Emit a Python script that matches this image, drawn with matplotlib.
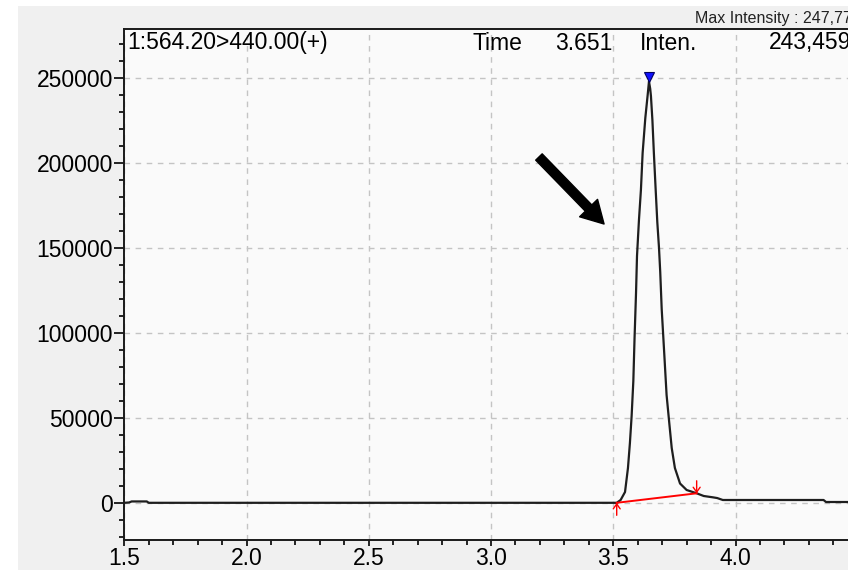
import matplotlib
matplotlib.use("Agg")
import matplotlib.pyplot as plt
from matplotlib.patches import Rectangle, FancyArrowPatch
from matplotlib.ticker import MultipleLocator
import matplotlib.transforms as mtransforms

plt.rcParams['font.family'] = ['Liberation Sans', 'DejaVu Sans']

# Chromatogram trace for transition 564.20 > 440.00 (+)
time_min = [1.500, 1.520, 1.530, 1.592, 1.600, 1.650, 3.500, 3.514, 3.530, 3.548,
            3.560, 3.568, 3.575, 3.582, 3.587, 3.593, 3.597, 3.605, 3.613, 3.620,
            3.631, 3.641, 3.646, 3.651, 3.654, 3.660, 3.666, 3.673, 3.680, 3.687,
            3.692, 3.698, 3.709, 3.718, 3.729, 3.739, 3.752, 3.773, 3.800, 3.841,
            3.870, 3.907, 3.925, 3.948, 4.360, 4.370, 4.460]
intensity = [0, 200, 800, 800, 0, 0, 0, 0, 1650, 6350,
             20460, 35160, 51040, 71620, 96900, 123370, 145100, 166290, 183930, 205690,
             226260, 240370, 247770, 243459, 239190, 224980, 205690, 185100, 165110, 149820,
             135710, 113950, 86320, 63390, 46920, 32220, 20460, 11350, 7530, 5590,
             4000, 3230, 2800, 1650, 1650, 470, 470]

# Integration baseline (peak start / end)
baseline_time = [3.514, 3.841]
baseline_int = [0, 5590]

# Peak top
apex_time = 3.648
apex_int = 247770

cursor_time = "3.651"
cursor_int = "243,459"
max_int_label = "Max Intensity : 247,770"
channel_label = "1:564.20>440.00(+)"

x_ticks = [1.5, 2.0, 2.5, 3.0, 3.5, 4.0]
y_ticks = [0, 50000, 100000, 150000, 200000, 250000]

W, H = 848, 570
fig = plt.figure(figsize=(W / 100, H / 100), dpi=100, facecolor='white')


def fx(px):
    return px / W


def fy(py):
    return 1 - py / H


# Window panel background
fig.patches.append(Rectangle((fx(18), 0), 1 - fx(18), fy(6), transform=fig.transFigure,
                             facecolor='#f0f0f0', edgecolor='none', zorder=-10))

ax = fig.add_axes([fx(124.3), fy(540), 1 - fx(124.3), fy(29) - fy(540)])
ax.set_facecolor('#fafafa')
ax.set_xlim(1.5, 4.46)
ax.set_ylim(-21870, 278600)

for s in ['top', 'left', 'bottom']:
    ax.spines[s].set_linewidth(1.4)
    ax.spines[s].set_color('#1a1a1a')
ax.spines['right'].set_visible(False)

ax.set_xticks(x_ticks)
ax.set_xticklabels([f"{v:.1f}" for v in x_ticks])
ax.set_yticks(y_ticks)
ax.set_yticklabels([str(v) for v in y_ticks])
ax.xaxis.set_minor_locator(MultipleLocator(0.1))
ax.yaxis.set_minor_locator(MultipleLocator(10000))
ax.tick_params(axis='y', which='major', length=7, width=1.2, pad=1, labelsize=16.5)
ax.tick_params(axis='y', which='minor', length=3.6, width=1.2)
ax.tick_params(axis='x', which='major', length=4.5, width=1.2, pad=0.5, labelsize=16.5)
ax.tick_params(axis='x', which='minor', length=3.6, width=1.2)

ax.grid(True, which='major', color='#c4c4c4', linestyle=(0, (4, 4)), linewidth=1.0)
ax.set_axisbelow(True)

ax.plot(time_min, intensity, color='#1e1e1e', linewidth=1.6, zorder=3)
ax.plot(baseline_time, baseline_int, color='red', linewidth=1.4, zorder=4)

# Peak start / end markers
ax.annotate('', xy=(baseline_time[0], baseline_int[0]), xytext=(0, -9),
            textcoords='offset points',
            arrowprops=dict(arrowstyle='->,head_length=0.35,head_width=0.25',
                            color='red', lw=1.0, shrinkA=0, shrinkB=0), zorder=5)
ax.annotate('', xy=(baseline_time[1], baseline_int[1]), xytext=(0, 9),
            textcoords='offset points',
            arrowprops=dict(arrowstyle='->,head_length=0.35,head_width=0.25',
                            color='red', lw=1.0, shrinkA=0, shrinkB=0), zorder=5)

# Peak top marker
up = mtransforms.offset_copy(ax.transData, fig=fig, x=0, y=4, units='dots')
ax.plot([apex_time], [apex_int], marker='v', markersize=7.5, color='#1010ff',
        markeredgecolor='#000060', markeredgewidth=0.8, transform=up, zorder=6,
        clip_on=False)

# Pointer arrow
arrow = FancyArrowPatch((fx(537), fy(155)), (fx(606), fy(226)),
                        transform=fig.transFigure,
                        arrowstyle='simple,head_width=18,head_length=16,tail_width=6.5',
                        mutation_scale=1, color='black', zorder=7)
fig.patches.append(arrow)

# Header texts
fs = 16.5
fig.text(fx(127), fy(43), channel_label, fontsize=fs, va='center', ha='left')
fig.text(fx(473), fy(43), "Time", fontsize=fs, va='center', ha='left')
fig.text(fx(612), fy(43), cursor_time, fontsize=fs, va='center', ha='right')
fig.text(fx(640), fy(43), "Inten.", fontsize=fs, va='center', ha='left')
fig.text(fx(769), fy(43), cursor_int, fontsize=fs, va='center', ha='left')
fig.text(fx(695), fy(18), max_int_label, fontsize=11.5, va='center', ha='left',
         color='#222222')

fig.savefig("out.png", dpi=100, facecolor=fig.get_facecolor())
